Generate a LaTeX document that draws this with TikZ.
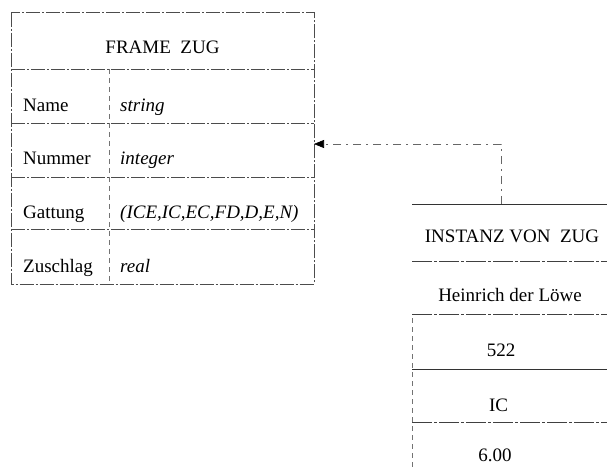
\documentclass[tikz,border=0pt]{standalone}
\usepackage{fontspec}
\setmainfont{Liberation Serif}
\usetikzlibrary{arrows.meta}
\begin{document}
\begin{tikzpicture}[x=1pt,y=-1pt,
  frameline/.style={draw=black!70,line width=0.7pt,dash pattern=on 14pt off 2pt on 2pt off 2pt},
  divline/.style={draw=black!55,line width=0.6pt,dash pattern=on 5pt off 4pt},
  instline/.style={draw=black!80,line width=0.8pt},
  instdash/.style={draw=black!75,line width=0.7pt,dash pattern=on 20pt off 2pt on 3pt off 2pt},
  connector/.style={draw=black!60,line width=0.7pt,dash pattern=on 8pt off 5pt on 2pt off 5pt},
  txt/.style={font=\fontsize{19}{21}\selectfont,inner sep=0pt,anchor=base},
  ltxt/.style={txt,anchor=base west},
  itxt/.style={ltxt,font=\fontsize{19}{21}\selectfont\itshape}]
\useasboundingbox (0,0) rectangle (607,470);
% FRAME box
\coordinate (fTL) at (11,12.7);
\coordinate (fBR) at (314,284);
\draw[frameline] (fTL) rectangle (fBR);
\foreach \y in {69,123,177,229} \draw[frameline] (11,\y) -- (314,\y);
\draw[divline] (109,69) -- (109,284);
\node[txt] (ftitle) at (162.5,53.3) {FRAME\ \ ZUG};
\node[ltxt] (n1) at (23,111.5) {Name};
\node[itxt] (v1) at (120,111.5) {string};
\node[ltxt] (n2) at (23,165) {Nummer};
\node[itxt] (v2) at (120,165) {integer};
\node[ltxt] (n3) at (23,219) {Gattung};
\node[itxt] (v3) at (120,219) {(ICE,IC,EC,FD,D,E,N)};
\node[ltxt] (n4) at (23,272) {Zuschlag};
\node[itxt] (v4) at (120,272) {real};
% INSTANZ box
\draw[instline] (412,204) -- (607,204);
\draw[instdash] (412,261) -- (607,261);
\draw[instdash] (412,314) -- (607,314);
\draw[instline] (412,369) -- (607,369);
\draw[instdash] (412,422) -- (607,422);
\draw[divline] (412,318) -- (412,470);
\node[txt] (ititle) at (512,243) {INSTANZ VON\ \ ZUG};
\node[txt] (i1) at (510,301.7) {Heinrich der Löwe};
\node[txt] (i2) at (501,356.7) {522};
\node[txt] (i3) at (498.5,411.7) {IC};
\node[txt] (i4) at (495,461.7) {6.00};
% connector
\coordinate (frameR) at (314,144);
\coordinate (instTop) at (501,204);
\draw[connector,-{Triangle[length=10pt,width=8pt,fill=black,color=black]}] (instTop) |- (frameR);
\end{tikzpicture}
\end{document}
